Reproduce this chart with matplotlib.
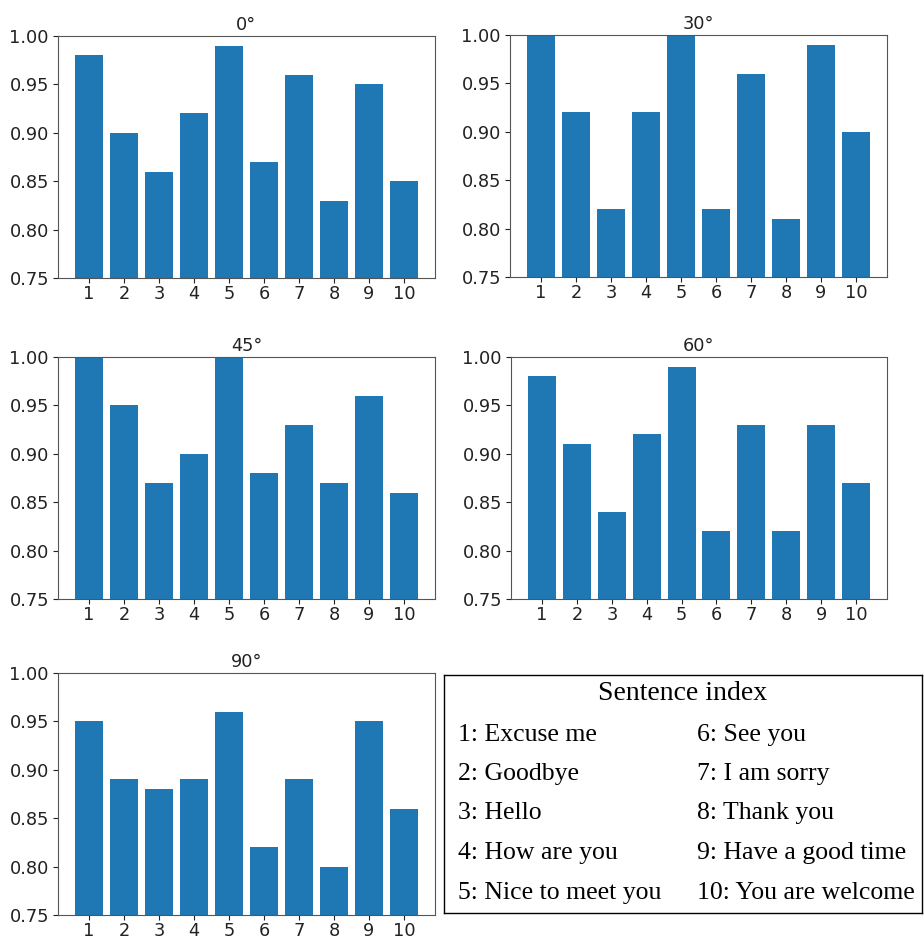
import matplotlib
matplotlib.use('Agg')
import matplotlib.pyplot as plt

# ── Data ──────────────────────────────────────────────────────────────────────

sentence_idx = [1, 2, 3, 4, 5, 6, 7, 8, 9, 10]
angles = ['0°', '30°', '45°', '60°', '90°']

acc_0 = [0.98, 0.90, 0.86, 0.92, 0.99, 0.87, 0.96, 0.83, 0.95, 0.85]
acc_30 = [1.00, 0.92, 0.82, 0.92, 1.00, 0.82, 0.96, 0.81, 0.99, 0.90]
acc_45 = [1.00, 0.95, 0.87, 0.90, 1.00, 0.88, 0.93, 0.87, 0.96, 0.86]
acc_60 = [0.98, 0.91, 0.84, 0.92, 0.99, 0.82, 0.93, 0.82, 0.93, 0.87]
acc_90 = [0.95, 0.89, 0.88, 0.89, 0.96, 0.82, 0.89, 0.80, 0.95, 0.86]

sentences = ['Excuse me', 'Goodbye', 'Hello', 'How are you', 'Nice to meet you',
             'See you', 'I am sorry', 'Thank you', 'Have a good time',
             'You are welcome']

BAR_COLOUR = '#1f77b4'

# ── Figure ────────────────────────────────────────────────────────────────────

W, H = 924, 939
fig = plt.figure(figsize=(W / 100, H / 100), dpi=100)


def px_axes(left, top, right, bottom):
    """Create axes from pixel box (origin top-left)."""
    return fig.add_axes([left / W, 1 - bottom / H,
                         (right - left) / W, (bottom - top) / H])


boxes = [
    (58, 36, 435, 278),
    (510, 35, 887, 277),
    (58, 357, 435, 599),
    (511, 357, 887, 599),
    (58, 673, 435, 915),
]
series = [acc_0, acc_30, acc_45, acc_60, acc_90]

for box, title, vals in zip(boxes, angles, series):
    ax = px_axes(*box)
    ax.bar(sentence_idx, vals, width=0.8, color=BAR_COLOUR)
    ax.set_ylim(0.75, 1.00)
    ax.set_yticks([0.75, 0.80, 0.85, 0.90, 0.95, 1.00])
    ax.set_xticks(sentence_idx)
    ax.tick_params(labelsize=12.8, colors='#222222', length=3.5)
    ax.tick_params(axis='x', pad=1.5)
    ax.tick_params(axis='y', pad=3)
    for s in ax.spines.values():
        s.set_color('#555555')
    ax.set_title(title, fontsize=12.8, color='#222222', pad=4)

# ── Sentence index legend box ─────────────────────────────────────────────────

lax = px_axes(444, 675, 922, 913)
lax.set_xticks([])
lax.set_yticks([])
for s in lax.spines.values():
    s.set_color('black')
    s.set_linewidth(1.0)
lax.set_xlim(0, 1)
lax.set_ylim(0, 1)

serif = 'Liberation Serif'
lax.text(0.5, (913 - 693) / 238, 'Sentence index', ha='center', va='center',
         fontsize=20, family=serif)
row_y = [735, 774, 813, 853, 893]
for i, name in enumerate(sentences):
    col = i // 5
    row = i % 5
    x = (458 - 444) / 478 if col == 0 else (697 - 444) / 478
    lax.text(x, (913 - row_y[row]) / 238, f'{i + 1}: {name}', ha='left',
             va='center', fontsize=18.5, family=serif)

plt.savefig('out.png', dpi=100, facecolor='white')
